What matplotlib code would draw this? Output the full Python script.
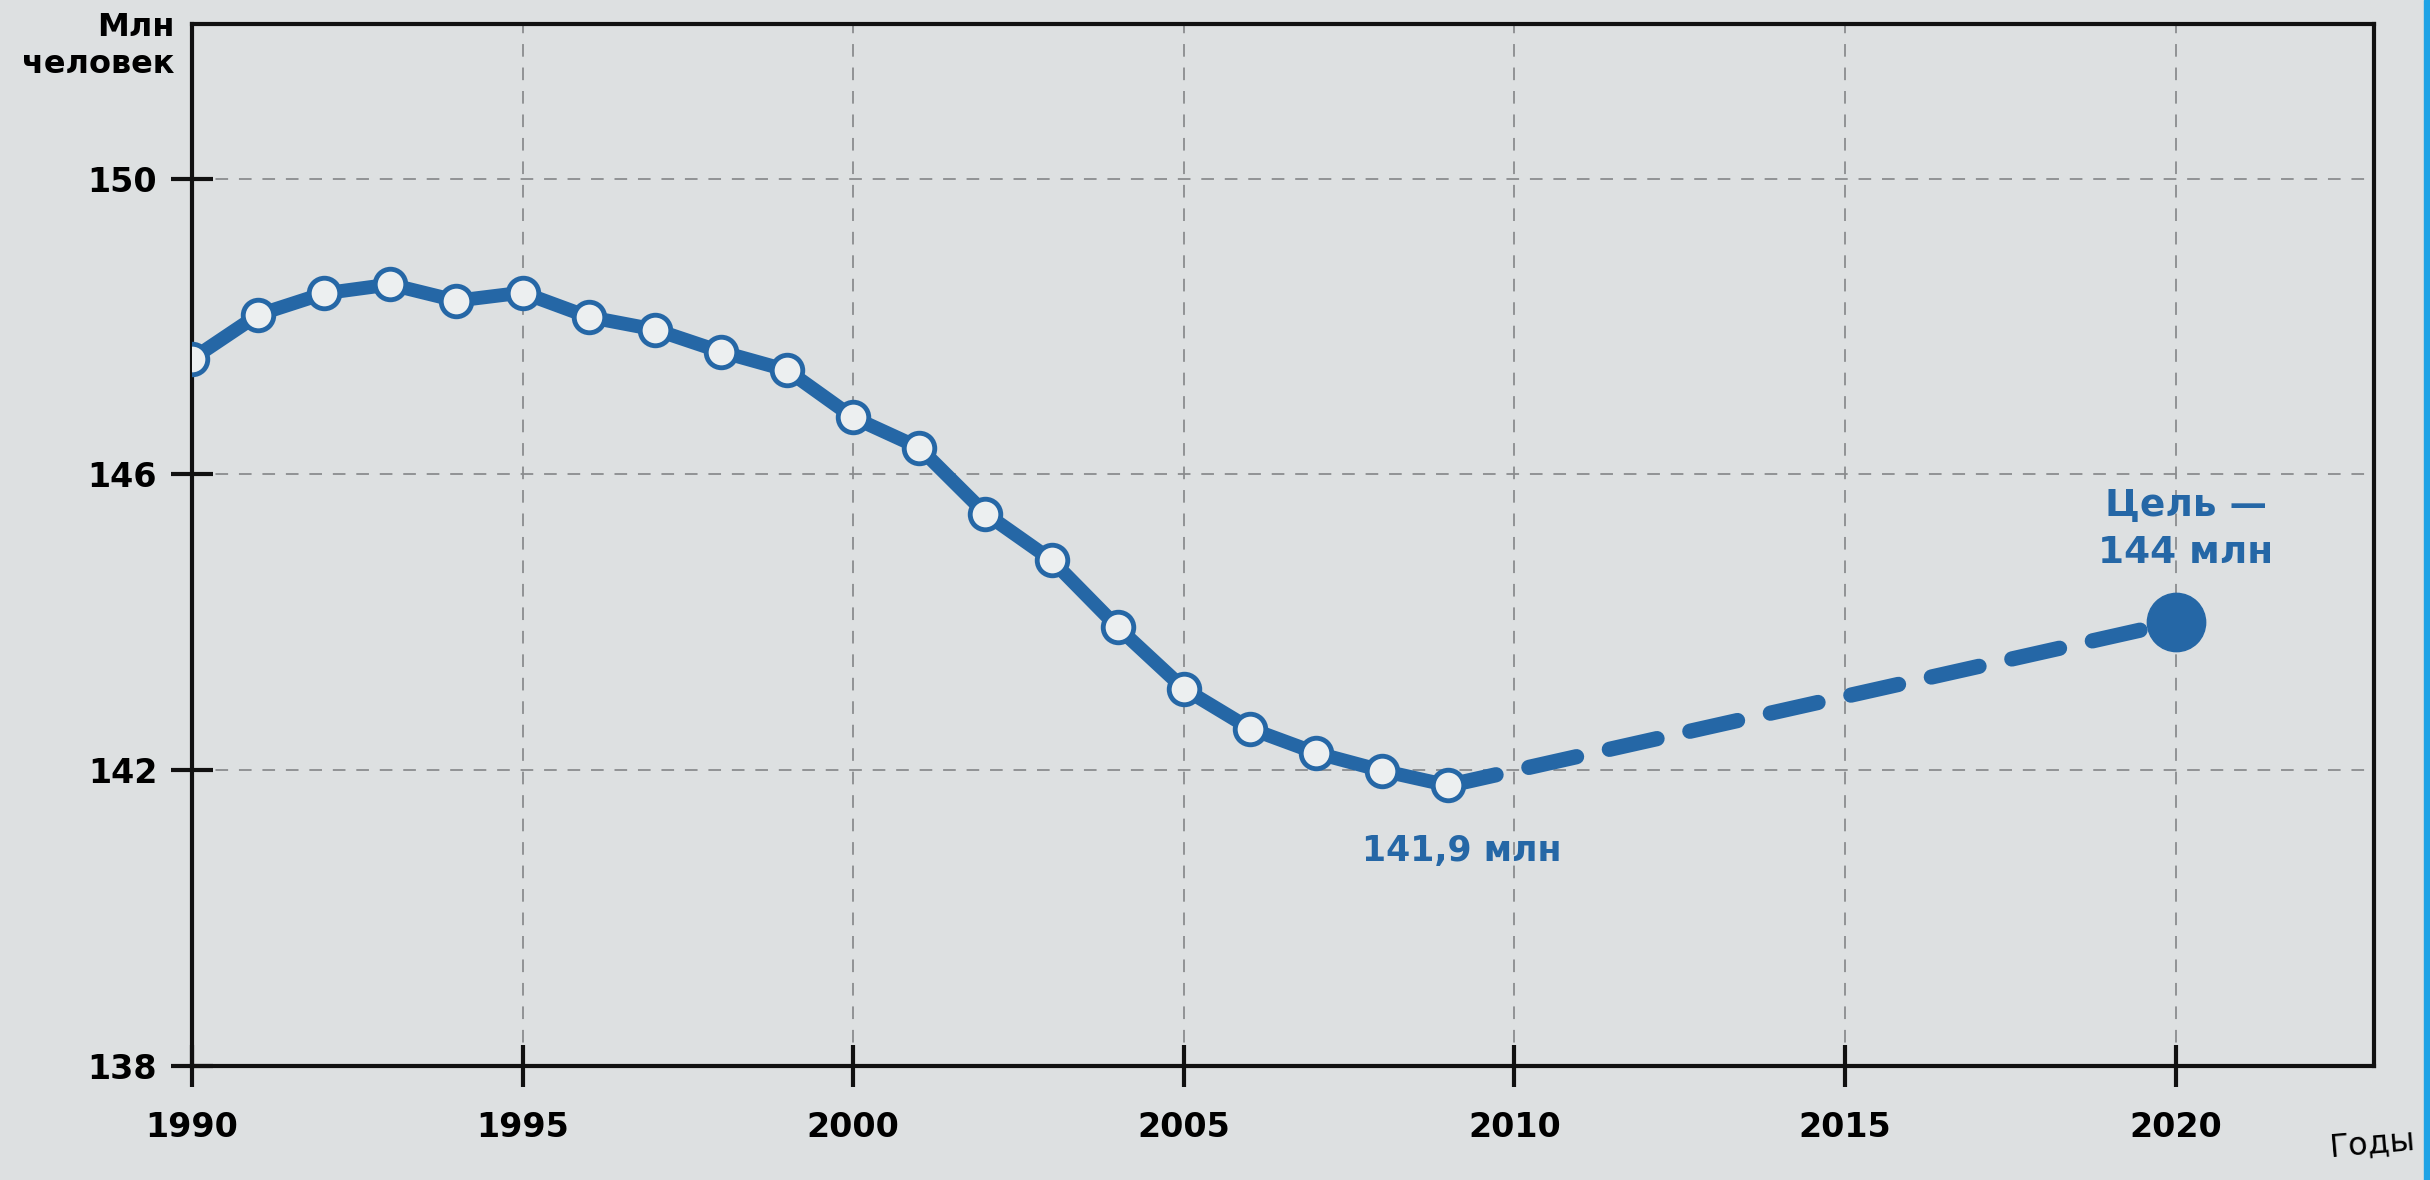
import matplotlib.pyplot as plt
from matplotlib.patches import Rectangle

plt.rcParams['font.family'] = ['DejaVu Sans']

# population of Russia, mln people
years = [1990, 1991, 1992, 1993, 1994, 1995, 1996, 1997, 1998, 1999,
         2000, 2001, 2002, 2003, 2004, 2005, 2006, 2007, 2008, 2009]
population = [147.56, 148.16, 148.45, 148.57, 148.35, 148.46, 148.13, 147.96, 147.66, 147.41,
              146.77, 146.36, 145.47, 144.84, 143.93, 143.10, 142.56, 142.23, 141.99, 141.79]

# target trend up to 2020
target_years = [2009, 2020]
target_values = [141.79, 144.0]

x_ticks = [1990, 1995, 2000, 2005, 2010, 2015, 2020]
y_ticks = [138, 142, 146, 150]

blue = '#2567a6'
paper = '#dde0e1'

fig = plt.figure(figsize=(24.3, 11.8), dpi=100, facecolor=paper)
ax = fig.add_axes([0.079, 0.097, 0.898, 0.883])
ax.set_facecolor(paper)

ax.set_xlim(1990, 2023)
ax.set_ylim(138, 152.1)

# dashed grid
for gx in x_ticks[1:]:
    ax.axvline(gx, color='#8a8c8e', lw=1.3, dashes=(7, 6), zorder=1)
for gy in y_ticks[1:]:
    ax.axhline(gy, color='#8a8c8e', lw=1.3, dashes=(7, 6), zorder=1)

# forecast
ax.plot(target_years, target_values, color=blue, lw=11, dashes=(3.2, 2.2),
        solid_capstyle='round', dash_capstyle='round', zorder=2)
ax.plot(target_years[-1], target_values[-1], 'o', color=blue, ms=42, zorder=4)

# actual data
ax.plot(years, population, color=blue, lw=10, zorder=3)
ax.plot(years, population, 'o', ms=22, mfc='#eceff0', mec=blue, mew=3.5, zorder=4)

# labels on the chart
ax.text(2009.2, 140.9, '141,9 млн', color=blue, fontsize=25, fontweight='bold',
        ha='center', va='center')
ax.text(2020.15, 145.57, 'Цель —', color=blue, fontsize=27, fontweight='bold',
        ha='center', va='center')
ax.text(2020.15, 144.94, '144 млн', color=blue, fontsize=27, fontweight='bold',
        ha='center', va='center')

for s in ax.spines.values():
    s.set_linewidth(3)
    s.set_color('#111111')

ax.set_xticks(x_ticks)
ax.set_yticks(y_ticks)
ax.set_xticklabels([str(v) for v in x_ticks], fontsize=24, fontweight='bold')
ax.set_yticklabels([str(v) for v in y_ticks], fontsize=24, fontweight='bold')
ax.tick_params(axis='both', direction='inout', length=30, width=3, color='#111111')
ax.tick_params(axis='x', pad=18)
ax.tick_params(axis='y', pad=10)

fig.text(0.072, 0.977, 'Млн', fontsize=23, fontweight='bold', ha='right', va='center')
fig.text(0.072, 0.945, 'человек', fontsize=23, fontweight='bold', ha='right', va='center')
fig.text(0.958, 0.03, 'Годы', fontsize=23, ha='left', va='center', rotation=5)

# blue edge of the photo
fig.patches.append(Rectangle((0.9975, 0), 0.0025, 1, transform=fig.transFigure,
                             color='#1ea3e6', zorder=10))

fig.savefig('out.png', dpi=100, facecolor=paper)
